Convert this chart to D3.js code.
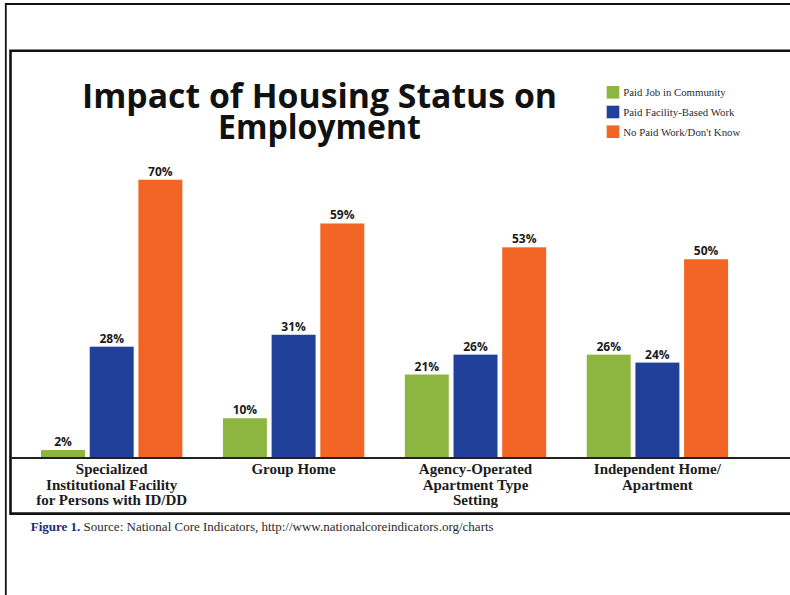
<!DOCTYPE html>
<html>
<head>
<meta charset="utf-8">
<script src="https://cdn.jsdelivr.net/npm/d3@7"></script>
<style>
  html, body { margin: 0; padding: 0; background: #fff; }
  svg { display: block; }
</style>
</head>
<body>
<script>
// Housing status categories (each label split into its printed lines)
const categories = [
  ["Specialized", "Institutional Facility", "for Persons with ID/DD"],
  ["Group Home"],
  ["Agency-Operated", "Apartment Type", "Setting"],
  ["Independent Home/", "Apartment"]
];
const seriesNames = ["Paid Job in Community", "Paid Facility-Based Work", "No Paid Work/Don't Know"];
const seriesColors = ["#8cb640", "#21409a", "#f26524"];

// Percent of people in each category, one array per series
const paidJobCommunity = [2, 10, 21, 26];
const paidFacilityWork = [28, 31, 26, 24];
const noPaidWork = [70, 59, 53, 50];
const seriesValues = [paidJobCommunity, paidFacilityWork, noPaidWork];

const titleLines = ["Impact of Housing Status on", "Employment"];
const captionLead = "Figure 1.";
const captionText = " Source: National Core Indicators, http://www.nationalcoreindicators.org/charts";

const W = 790, H = 595;
const svg = d3.select("body").append("svg").attr("width", W).attr("height", H);

// Page frames
svg.append("path").attr("d", `M5.8,${H} V4 H${W}`)
  .attr("fill", "none").attr("stroke", "#111").attr("stroke-width", 1.8);
svg.append("path").attr("d", `M${W},50.8 H10.5 V513.6 H${W}`)
  .attr("fill", "none").attr("stroke", "#111").attr("stroke-width", 2.6);

// Scales
const baseY = 458;
const x0 = d3.scaleBand().domain(d3.range(categories.length))
  .range([20.75, 748.35]).paddingInner(0.223).paddingOuter(0.1115);
const x1 = d3.scaleBand().domain(d3.range(seriesNames.length))
  .range([0, x0.bandwidth()]).paddingInner(0.097);
const y = d3.scaleLinear().domain([0, 100]).range([baseY, 60.5]);

const sans = "'Open Sans', 'Noto Sans', sans-serif";
const serif = "'Liberation Serif', 'DejaVu Serif', serif";

// Title, two centred lines
const titleWidths = [475, 203];
svg.append("g").selectAll("text").data(titleLines).join("text")
  .attr("text-anchor", "middle")
  .attr("font-family", sans).attr("font-weight", 700).attr("font-size", 34).attr("fill", "#111")
  .attr("x", 319.5).attr("y", (d, i) => 107.5 + i * 31)
  .attr("textLength", (d, i) => titleWidths[i]).attr("lengthAdjust", "spacingAndGlyphs")
  .text(d => d);

// Bars
const groups = svg.append("g").selectAll("g").data(categories).join("g")
  .attr("transform", (d, i) => `translate(${x0(i)},0)`);

groups.each(function(c, ci) {
  const g = d3.select(this);
  const vals = seriesValues.map((s, si) => ({ si, v: s[ci] }));
  g.selectAll("rect").data(vals).join("rect")
    .attr("x", d => x1(d.si)).attr("width", x1.bandwidth())
    .attr("y", d => y(d.v)).attr("height", d => baseY - y(d.v))
    .attr("fill", d => seriesColors[d.si]);
  g.selectAll("text.val").data(vals).join("text").attr("class", "val")
    .attr("x", d => x1(d.si) + x1.bandwidth() / 2).attr("y", d => y(d.v) - 4)
    .attr("text-anchor", "middle").attr("font-family", sans).attr("font-weight", 700)
    .attr("font-size", 12).attr("fill", "#1a1a1a")
    .text(d => d.v + "%");
});

// Baseline axis
const xAxis = d3.axisBottom(x0).tickSize(0).tickFormat("");
const axisG = svg.append("g").attr("transform", `translate(0,${baseY})`).call(xAxis);
axisG.select(".domain").attr("d", `M10.5,0 H${W}`).attr("stroke", "#222").attr("stroke-width", 2);

// Category labels
const catLabels = svg.append("g").selectAll("text").data(categories).join("text")
  .attr("text-anchor", "middle").attr("font-family", serif).attr("font-weight", 700)
  .attr("font-size", 15).attr("fill", "#1c1c1c");
catLabels.each(function(lines, i) {
  d3.select(this).selectAll("tspan").data(lines).join("tspan")
    .attr("x", x0(i) + x0.bandwidth() / 2).attr("y", (d, j) => 474.3 + j * 15.5)
    .text(d => d);
});

// Legend
const legend = svg.append("g").selectAll("g").data(seriesNames).join("g")
  .attr("transform", (d, i) => `translate(606.7,${86 + i * 19.7})`);
legend.append("rect").attr("width", 12.6).attr("height", 12.6)
  .attr("fill", (d, i) => seriesColors[i]);
legend.append("text").attr("x", 16.6).attr("y", 10.3)
  .attr("font-family", serif).attr("font-size", 10.8).attr("fill", "#2a2a35")
  .text(d => d);

// Caption
const cap = svg.append("text").attr("x", 30.7).attr("y", 531)
  .attr("font-family", serif).attr("font-size", 13);
cap.append("tspan").attr("font-weight", 700).attr("fill", "#1d2a78").text(captionLead);
cap.append("tspan").attr("fill", "#2a2a2a").text(captionText);
</script>
</body>
</html>
